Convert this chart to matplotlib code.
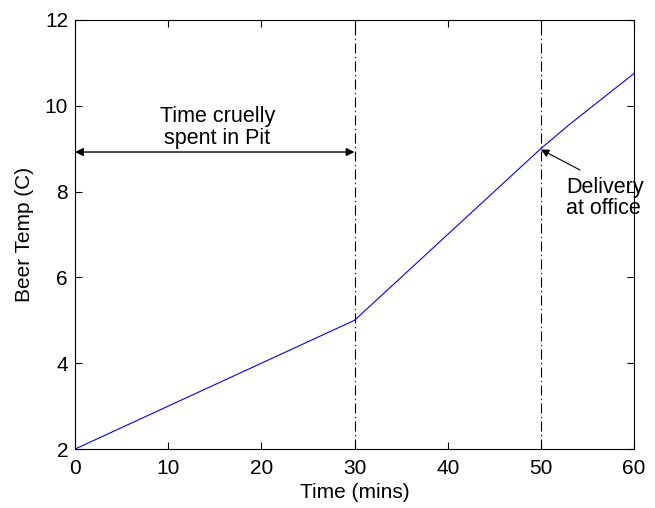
import matplotlib.pyplot as plt

plt.rcParams['font.family'] = ['Liberation Sans', 'DejaVu Sans']

# beer temperature over time
time_mins = [0, 30, 50, 53, 60]
beer_temp = [2.0, 5.0, 9.0, 9.55, 10.75]

pit_end = 30
delivery_time = 50
xticks = [0, 10, 20, 30, 40, 50, 60]
yticks = [2, 4, 6, 8, 10, 12]

fig = plt.figure(figsize=(6.55, 5.08), dpi=100)
ax = fig.add_axes([0.1145, 0.116, 0.8535, 0.845])

ax.plot(time_mins, beer_temp, color='#0000ff', linewidth=0.8)

# dash-dot markers for the pit and the delivery
for xv in [pit_end, delivery_time]:
    ax.axvline(xv, color='black', linewidth=0.8, linestyle=(0, (9, 3, 1.2, 3)))

ax.annotate('', xy=(0, 8.92), xytext=(pit_end, 8.92),
            arrowprops=dict(arrowstyle='<|-|>', color='black', lw=1.0,
                            mutation_scale=12, shrinkA=0, shrinkB=0))
ax.text(15.3, 9.5, 'Time cruelly\nspent in Pit', ha='center', va='center',
        fontsize=15.5, linespacing=1.05)

ax.annotate('', xy=(delivery_time, 8.98), xytext=(54.2, 8.5),
            arrowprops=dict(arrowstyle='-|>', color='black', lw=0.8,
                            mutation_scale=12, shrinkA=0, shrinkB=0))
ax.text(52.7, 7.85, 'Delivery\nat office', ha='left', va='center',
        fontsize=15.5, linespacing=1.05)

ax.set_xlim(0, 60)
ax.set_ylim(2, 12)
ax.set_xticks(xticks)
ax.set_yticks(yticks)
ax.tick_params(direction='in', top=True, right=True, labelsize=15, length=5)
ax.tick_params(axis='x', pad=7)
ax.tick_params(axis='y', pad=5)
ax.set_xlabel('Time (mins)', fontsize=15, labelpad=4)
ax.set_ylabel('Beer Temp (C)', fontsize=15, labelpad=8)
for s in ax.spines.values():
    s.set_linewidth(0.8)

fig.savefig('out.png', dpi=100)
